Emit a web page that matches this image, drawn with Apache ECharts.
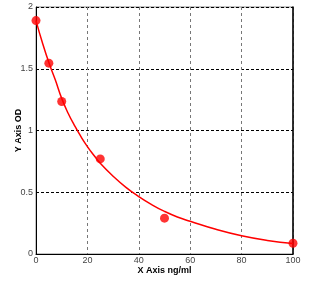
<!DOCTYPE html>
<html><head><meta charset="utf-8">
<script src="https://cdn.jsdelivr.net/npm/echarts@6/dist/echarts.min.js"></script>
<style>html,body{margin:0;padding:0;background:#fff}#c{width:334px;height:284px}</style>
</head><body><div id="c"></div>
<script>
// Measured standards
var pointX = [0, 5, 10, 25, 50, 100];
var pointY = [1.89, 1.545, 1.235, 0.77, 0.29, 0.087];
// Fitted curve
var curveX = [0, 2.5, 5, 7.5, 10, 12.5, 15, 17.5, 20, 22.5, 25, 30, 35, 40, 45, 50, 55, 60, 70, 80, 90, 100];
var curveY = [1.89, 1.71, 1.55, 1.41, 1.26, 1.14, 1.04, 0.95, 0.87, 0.80, 0.735, 0.63, 0.54, 0.465, 0.40, 0.345, 0.30, 0.265, 0.20, 0.148, 0.11, 0.085];
var xTicks = [0, 20, 40, 60, 80, 100];
var yTicks = ['0', '0.5', '1', '1.5', '2'];
var xTitle = 'X Axis ng/ml';
var yTitle = 'Y Axis OD';

var chart = echarts.init(document.getElementById('c'));
var font = 'Liberation Sans, Arial, sans-serif';
chart.setOption({
  animation: false,
  grid: {left: 36, right: 41, top: 7, bottom: 30, show: true, borderColor: '#888', borderWidth: 1,
    containLabel: false, outerBoundsMode: 'none'},
  xAxis: [{
    type: 'value', min: 0, max: 100, interval: 20,
    name: xTitle, nameLocation: 'middle', nameGap: 12, nameMoveOverlap: false,
    nameTextStyle: {fontFamily: font, fontSize: 9, fontWeight: 'bold', color: '#000'},
    axisLine: {show: true, onZero: false, lineStyle: {color: '#000', width: 1}},
    axisTick: {show: false},
    axisLabel: {fontFamily: font, fontSize: 9, color: '#444', margin: 2,
      formatter: function (v) { return xTicks.indexOf(v) >= 0 ? String(v) : ''; }},
    splitLine: {show: true, lineStyle: {color: '#777', type: [3, 3], width: 1}}
  }],
  yAxis: [{
    type: 'value', min: 0, max: 2, interval: 0.5,
    name: yTitle, nameLocation: 'middle', nameGap: 13, nameRotate: 90, nameMoveOverlap: false,
    nameTextStyle: {fontFamily: font, fontSize: 9, fontWeight: 'bold', color: '#000'},
    axisLine: {show: true, onZero: false, lineStyle: {color: '#000', width: 1}},
    axisTick: {show: false},
    axisLabel: {fontFamily: font, fontSize: 9, color: '#444', margin: 3,
      formatter: function (v) { return yTicks[Math.round(v * 2)]; }},
    splitLine: {show: true, lineStyle: {color: '#000', type: [3, 2], width: 1}}
  }, {
    type: 'value', min: 0, max: 2, interval: 0.5, position: 'right',
    axisLine: {show: true, onZero: false, lineStyle: {color: '#000', width: 1.5}},
    axisTick: {show: false}, axisLabel: {show: false}, splitLine: {show: false}
  }],
  series: [{
    type: 'line', data: curveX.map(function (x, i) { return [x, curveY[i]]; }),
    smooth: true, showSymbol: false, lineStyle: {color: '#ff0000', width: 1.5}, z: 3
  }, {
    type: 'scatter', data: pointX.map(function (x, i) { return [x, pointY[i]]; }),
    symbol: 'circle', symbolSize: 9, itemStyle: {color: '#ff0000'}, z: 4
  }]
});
</script></body></html>
